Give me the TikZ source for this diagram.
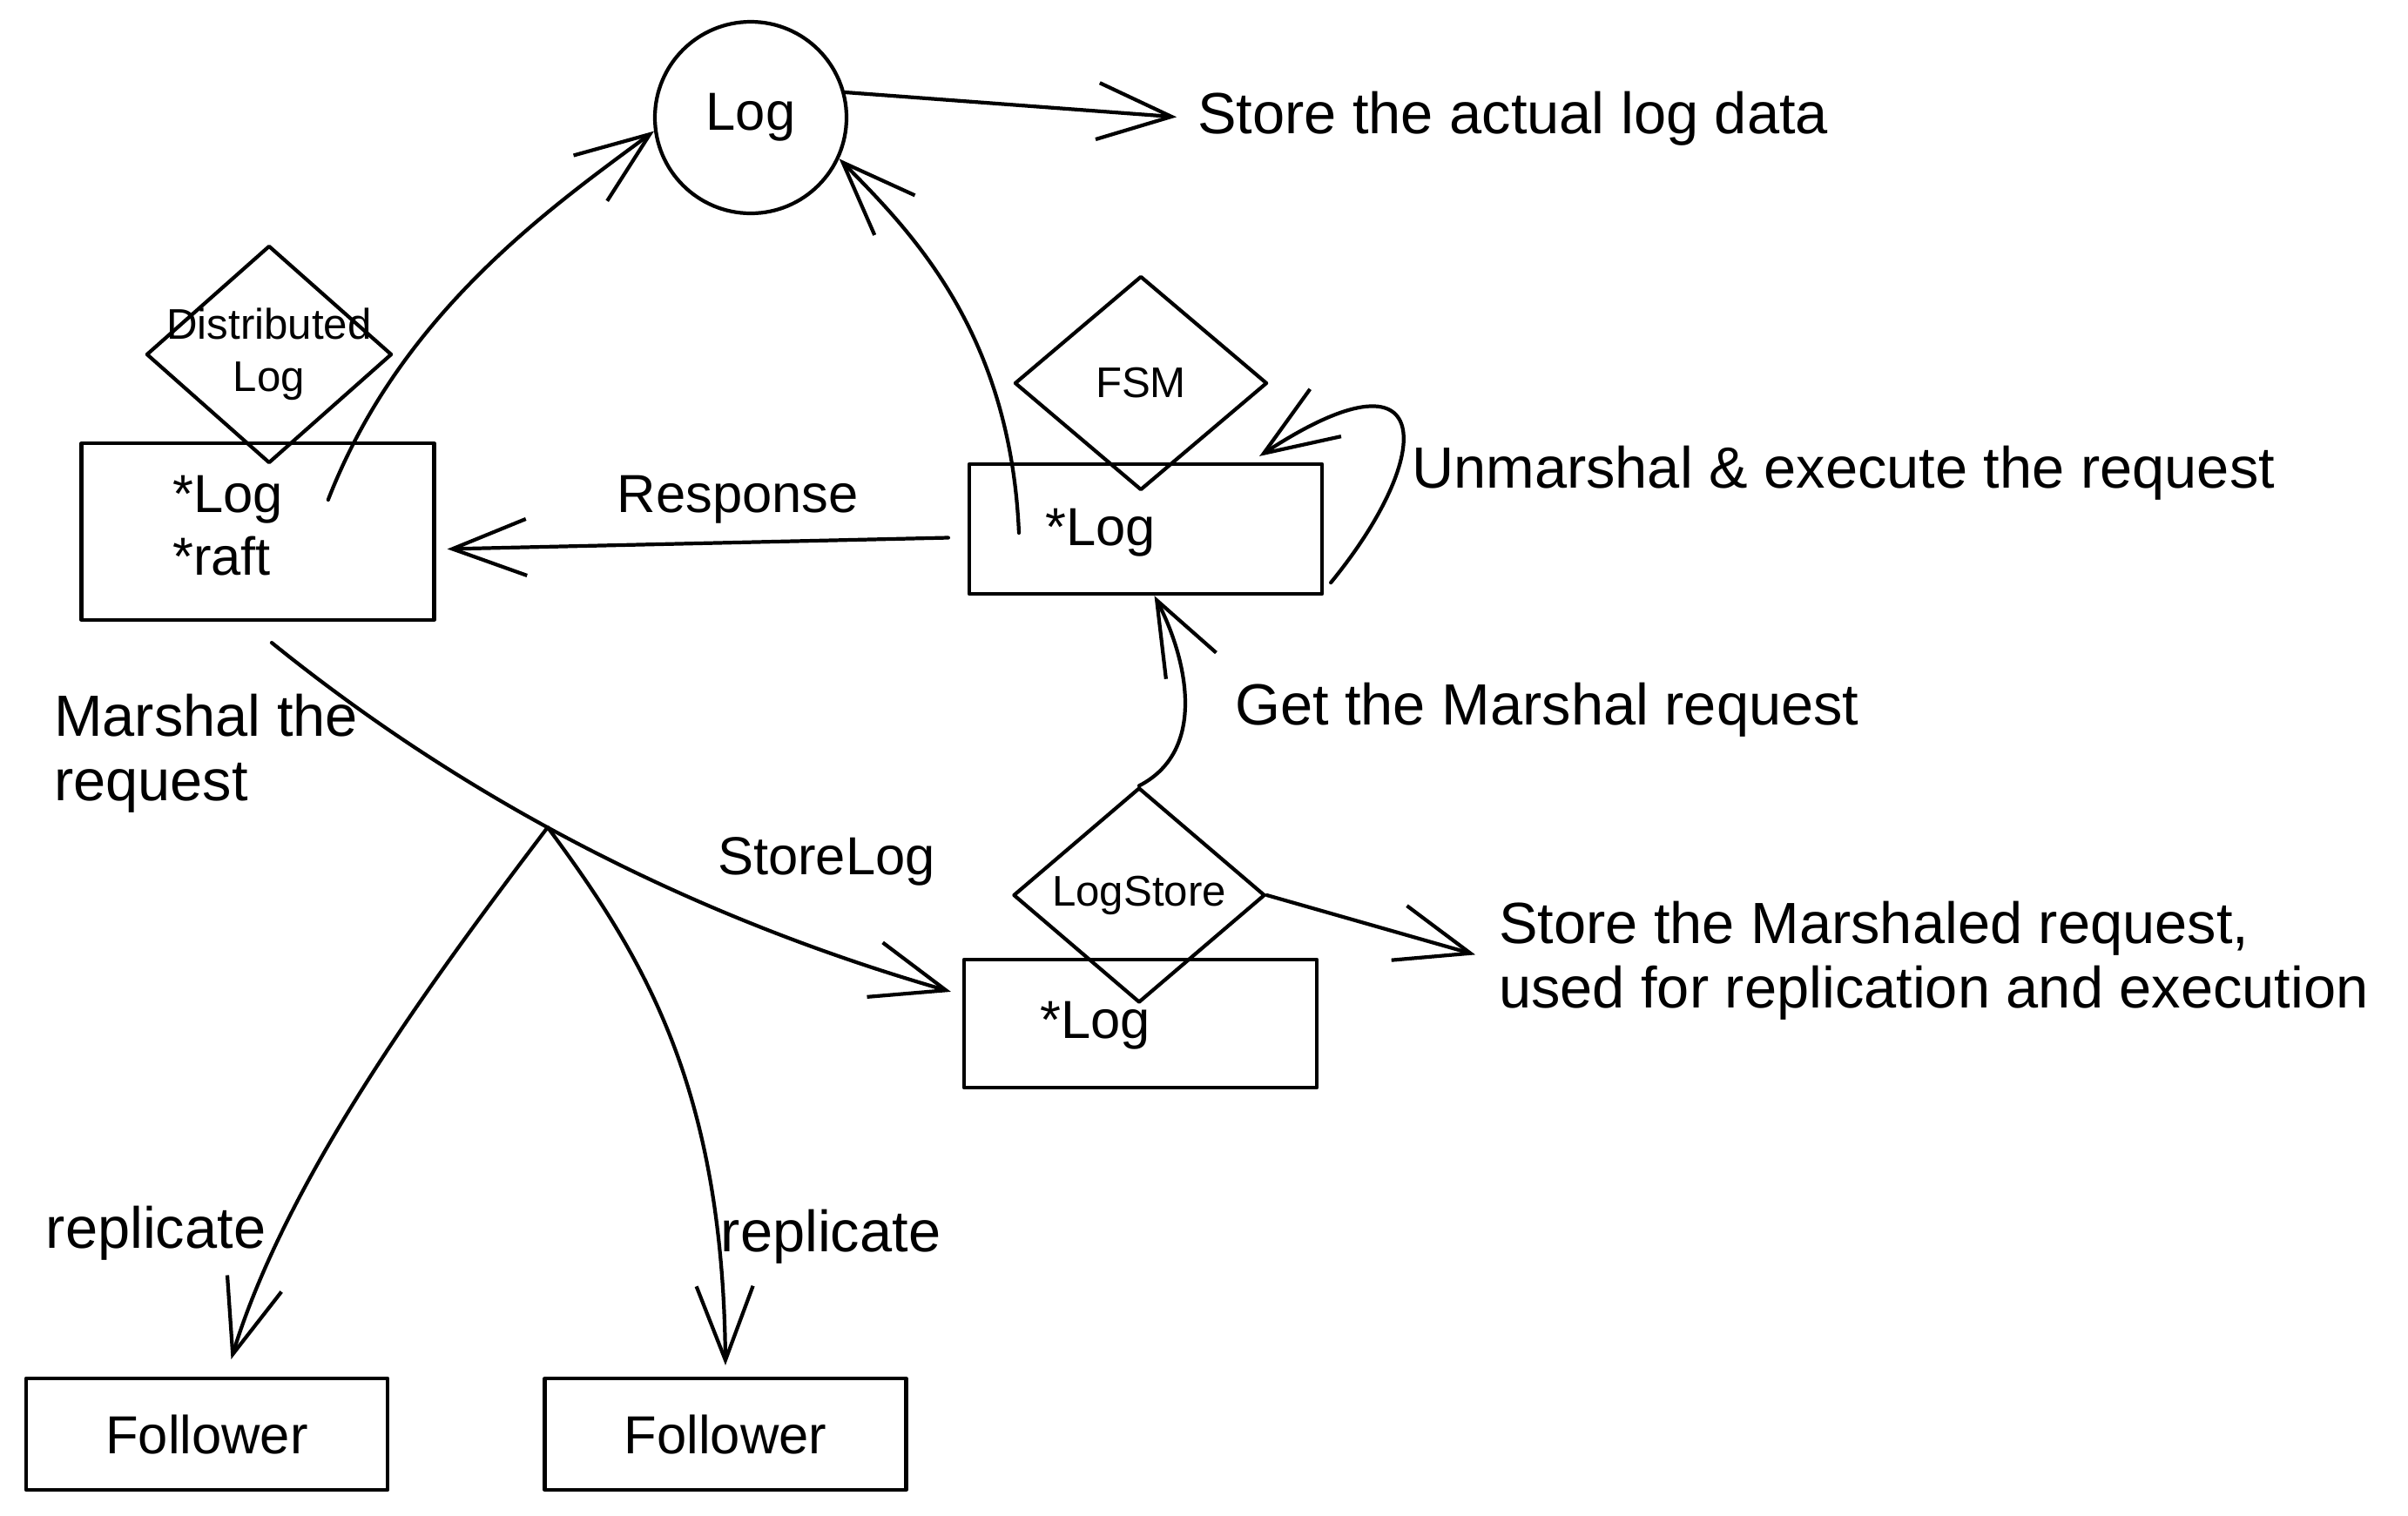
\documentclass[tikz,border=0pt]{standalone}
\usepackage{fontspec}
\setmainfont{Liberation Sans}
\usetikzlibrary{shapes.geometric,arrows.meta}

\begin{document}
\begin{tikzpicture}[line width = 1.2pt, line cap = round, line join = round,
>= {Straight Barb[length = 8.5mm, width = 6.5mm]},
caja/.style = {draw, rectangle, inner sep = 0pt, minimum width = 4.05cm},
rombo/.style = {draw, diamond, inner sep = 0pt, minimum width = 2.88cm, minimum height = 2.47cm},
chica/.style = {inner sep = 0pt, align = center, font = \fontsize{14}{17}\selectfont},
txt/.style = {inner sep = 0pt, font = \fontsize{17.5}{21}\selectfont},
nota/.style = {inner sep = 0pt, align = left, font = \fontsize{19}{21}\selectfont}
]
\useasboundingbox (0,0) rectangle (27.65,-17.40);

% circulo del log
\node[draw, circle, minimum size = 2.2cm, txt] (log) at (8.62,-1.35) {Log};
\node[nota, anchor = west] (datos) at (13.73,-1.36) {Store the actual log data};
\draw[->, shorten >= 2.2mm] (log.15) -- (datos.west);

% distributed log
\node[caja, minimum height = 2.03cm] (dlog) at (2.96,-6.105) {};
\node[rombo, minimum width = 2.82cm, minimum height = 2.5cm] (dist) at (3.09,-4.07) {};
\node[chica] (disttxt) at (dist) {Distributed\\Log};
\node[txt, anchor = west] (dlog1) at (1.96,-5.74) {*Log};
\node[txt, anchor = west] (dlog2) at (1.96,-6.39) {*raft};
\draw[->] ([xshift = 5mm]dlog1.east) .. controls (4.6,-3.6) and (6.3,-2.4) .. (log.188);

% fsm
\node[caja, minimum height = 1.49cm] (fsmbox) at (13.155,-6.075) {};
\node[rombo, minimum width = 2.9cm, minimum height = 2.46cm] (fsm) at (13.10,-4.40) {};
\node[chica] (fsmtxt) at (fsm) {FSM};
\node[txt, anchor = west] (fsmlog) at (11.98,-6.12) {*Log};
\draw[->] ([xshift = -2.8mm]fsmlog.west) .. controls (11.6,-3.8) and (10.45,-2.65) .. (log.-25);
\draw[->] ([shift = {(0.08,0.15)}]fsmbox.south east) .. controls (16.5,-5.2) and (16.5,-3.9) .. ([shift = {(-0.74,0.07)}]fsmbox.north east);
\node[nota, anchor = west] (unm) at (16.19,-5.43) {Unmarshal \& execute the request};
\draw[->] ([shift = {(-0.22,-0.1)}]fsmbox.west) -- node[pos = 0.42, above = 2mm, txt] (resp) {Response} ([shift = {(0.13,-0.2)}]dlog.east);

% log store
\node[caja, minimum height = 1.47cm] (storebox) at (13.095,-11.755) {};
\node[rombo, minimum width = 2.89cm, minimum height = 2.47cm] (lstore) at (13.08,-10.28) {};
\node[chica] (lstoretxt) at (lstore) {LogStore};
\node[txt, anchor = west] (storelog) at (11.92,-11.78) {*Log};
\draw[->] (lstore.north) .. controls (13.9,-8.6) and (13.6,-7.5) .. ([xshift = 1mm]fsmbox.south);
\node[nota, anchor = west] (getm) at (14.16,-8.15) {Get the Marshal request};
\node[nota, anchor = west] (marsh) at (17.19,-11.035) {Store the Marshaled request,\\used for replication and execution};
\draw[->, shorten >= 2.6mm] (lstore.east) -- (marsh.west);

% StoreLog y replicas
\draw[->] ([shift = {(0.16,-0.24)}]dlog.south) .. controls (5.0,-8.9) and (7.5,-10.4) .. ([shift = {(-0.13,-0.39)}]storebox.north west) coordinate[pos = 0.48] (split);
\node[nota, anchor = west] (marshreq) at (0.60,-8.655) {Marshal the\\request};
\node[txt] (slog) at (9.49,-9.89) {StoreLog};

\foreach \i/\x in {1/2.375, 2/8.33}
	\node[caja, minimum width = 4.15cm, minimum height = 1.28cm, txt] (f\i) at (\x,-16.47) {Follower};

\draw[->] (split) .. controls (5.0,-11.2) and (3.3,-13.5) .. ([shift = {(0.28,0.2)}]f1.north);
\draw[->] (split) .. controls (7.4,-11.0) and (8.3,-12.5) .. ([yshift = 1.3mm]f2.north);
\node[nota] (rep1) at (1.79,-14.16) {replicate};
\node[nota] (rep2) at (9.54,-14.20) {replicate};
\end{tikzpicture}
\end{document}
